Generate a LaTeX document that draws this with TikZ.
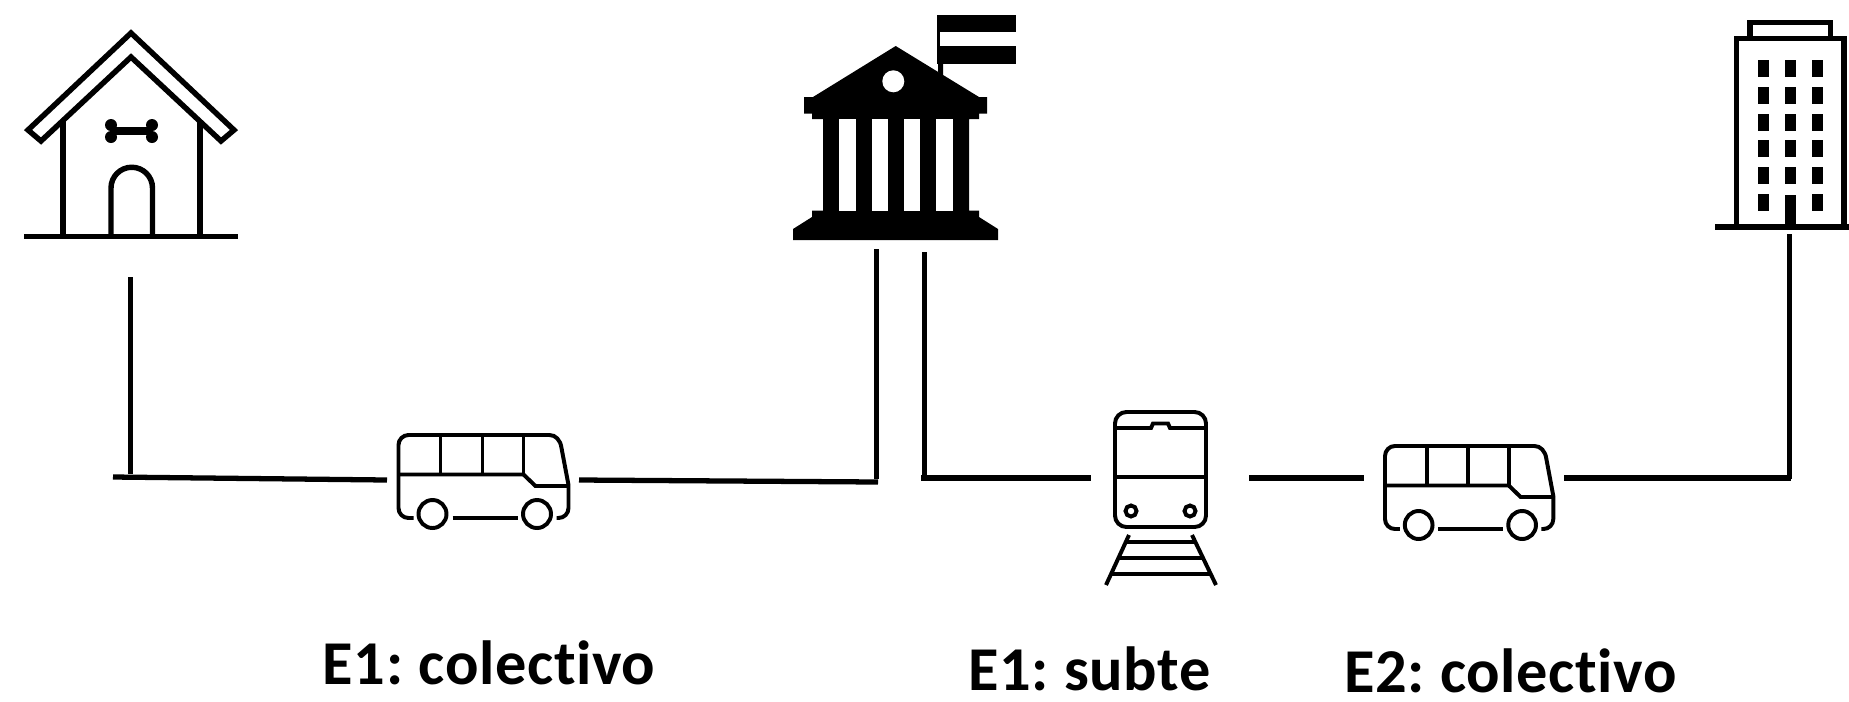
\documentclass[tikz,border=0pt]{standalone}
\usepackage{fontspec}
\setmainfont{Carlito}[Ligatures=CommonOff, LetterSpace=1]
\newcommand{\capfont}{\fontsize{35.5}{36}\selectfont\bfseries\spaceskip=0.17em\relax}
\tikzset{
    icon/.style={line width=2.25pt, line cap=butt, line join=miter},
    heavy/.style={line width=3.1pt, line cap=butt, line join=miter},
    link/.style={line width=3pt},
    caption/.style={anchor=base west, inner sep=0pt, font=\capfont},
    bus/.pic={
        \draw[icon] (15,83) -- (10,83) arc[start angle=90,end angle=180,radius=10] -- (0,10) arc[start angle=180,end angle=270,radius=10] -- (151,0) .. controls (157,0) and (162,5) .. (163,13) -- (170,50) -- (170,73) arc[start angle=0,end angle=90,radius=10] -- (158,83);
        \draw[icon] (0,39.5) -- (125,39.5) -- (137,51) -- (170,51);
        \foreach \x in {42,84,125} {
            \draw[icon] (\x,0) -- (\x,39.5);
        }
        \draw[icon] (34,79) circle (14);
        \draw[icon] (138.5,79) circle (14);
        \draw[icon] (54,83) -- (119,83);
    },
    train/.pic={
        \draw[icon, rounded corners=6.5pt] (0,0) rectangle (91,115);
        \draw[icon] (0,16) -- (36,16) -- (38,11.5) -- (53,11.5) -- (55,16) -- (91,16);
        \draw[icon] (0,65) -- (91,65);
        \draw[icon] (16,99) circle (5.5);
        \draw[icon] (75,99) circle (5.5);
        % rails
        \draw[icon] (14,123) -- (-9,173);
        \draw[icon] (77,123) -- (101,173);
        \foreach \y/\a/\b in {130/10/81,146/3/89,162/-4/95} {
            \draw[icon] (\a,\y) -- (\b,\y);
        }
    }
}
\begin{document}
\begin{tikzpicture}[x={(0.02cm,0cm)}, y={(0cm,-0.02cm)}]
    \useasboundingbox (0,0) rectangle (1849,701);
    % dog house
    \draw[heavy] (131,33) -- (234,130) -- (221,141) -- (131,57) -- (41,141) -- (28,130) -- cycle;
    \draw[heavy] (63,121) -- (63,236);
    \draw[heavy] (200,121) -- (200,236);
    \draw[heavy, line width=3.4pt] (24,236.5) -- (238,236.5);
    \draw[heavy] (111,236) -- (111,188) arc[start angle=180,end angle=360,radius=20.75] -- (152.5,236);
    \draw[heavy, line width=4.5pt] (112,131) -- (152,131);
    \foreach \x in {111,152} {
        \foreach \y in {125,137} {
            \fill (\x,\y) circle (6);
        }
    }
    % museum
    \fill (895.7,46) -- (979,97) -- (987,97) -- (987,113.5) -- (979,113.5) -- (979,119) -- (969,119) -- (969,210.5) -- (979,210.5) -- (979,217) -- (998,229) -- (998,240) -- (793,240) -- (793,229) -- (812,217) -- (812,210.5) -- (823,210.5) -- (823,119) -- (812,119) -- (812,113.5) -- (804,113.5) -- (804,97) -- (813,97) -- cycle;
    \foreach \x in {839.3,871.7,904,936.3} {
        \fill[white] (\x,119) rectangle (\x+16.4,210.5);
    }
    \fill[white] (893.3,81.3) circle (11);
    % flag
    \fill (937,15) rectangle (1016,32);
    \fill (937,46) rectangle (1016,64);
    \fill (937,15) rectangle (940,64);
    \fill (938,64) -- (943,64) -- (943,76) -- (938,72) -- cycle;
    % office building
    \draw[heavy] (1736.7,227) -- (1736.7,38.5) -- (1844,38.5) -- (1844,227);
    \draw[heavy] (1750,38.5) -- (1750,22.5) -- (1830.7,22.5) -- (1830.7,38.5);
    \draw[heavy, line width=3.4pt] (1715,227) -- (1849,227);
    \foreach \x in {1758,1785,1812} {
        \foreach \y in {60,87,114,140,167} {
            \fill (\x,\y) rectangle (\x+11,\y+17);
        }
    }
    \fill (1758,194) rectangle (1769,211);
    \fill (1812,194) rectangle (1823,211);
    \fill (1785,195) rectangle (1796,227);
    % vehicles
    \pic (busA) at (398.5,435) {bus};
    \pic (trainA) at (1115,412) {train};
    \pic[xscale=0.99] (busB) at (1385,446) {bus};
    % free ends of the route
    \coordinate (houseTop) at (130.5,277);
    \coordinate (houseCorner) at (130.5,474);
    \coordinate (routeStart) at (113,477);
    \coordinate (busAin) at (387,480);
    \coordinate (busAout) at (579,480);
    \coordinate (museumIn) at (878,482);
    \coordinate (museumInTop) at (876.5,249);
    \coordinate (museumInEnd) at (876.5,479);
    \coordinate (museumOutTop) at (924.5,252);
    \coordinate (museumOutEnd) at (924.5,479);
    \coordinate (museumOut) at (921,478);
    \coordinate (trainIn) at (1091,478);
    \coordinate (trainOut) at (1249,478);
    \coordinate (busBin) at (1364,478);
    \coordinate (busBout) at (1564,478);
    \coordinate (officeIn) at (1791,478);
    \coordinate (officeTop) at (1789.5,234);
    \coordinate (officeEnd) at (1789.5,479);
    % route
    \draw[link] (houseTop) -- (houseCorner);
    \draw[link] (routeStart) -- (busAin);
    \draw[link] (busAout) -- (museumIn);
    \draw[link] (museumInTop) -- (museumInEnd);
    \draw[link] (museumOutTop) -- (museumOutEnd);
    \draw[link] (museumOut) -- (trainIn);
    \draw[link] (trainOut) -- (busBin);
    \draw[link] (busBout) -- (officeIn);
    \draw[link] (officeTop) -- (officeEnd);
    % captions
    \node[caption] (captionA) at (322.5,684.5) {E1: colectivo};
    \node[caption] (captionB) at (968,690) {E1: subte};
    \node[caption] (captionC) at (1344,692) {E2: colectivo};
\end{tikzpicture}
\end{document}
